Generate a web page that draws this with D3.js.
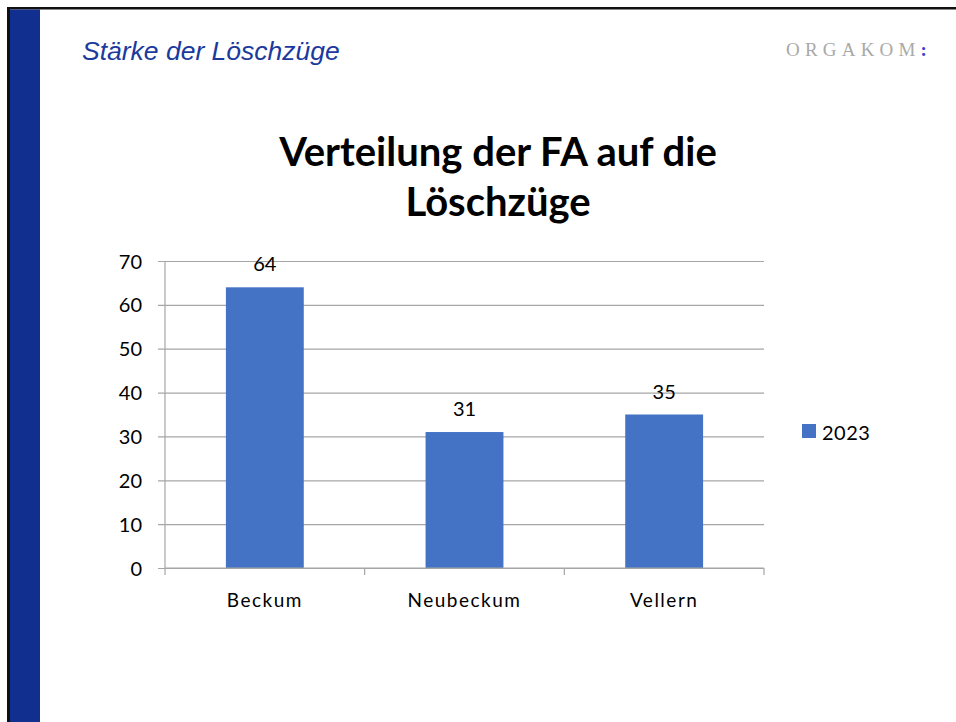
<!DOCTYPE html>
<html><head><meta charset="utf-8">
<script src="https://cdn.jsdelivr.net/npm/d3@7"></script>
<style>html,body{margin:0;padding:0;background:#fff;}svg{display:block;}</style>
</head><body>
<script>
const categories = ["Beckum", "Neubeckum", "Vellern"];
const values2023 = [64, 31, 35];
const seriesName = "2023";
const yTicks = [0, 10, 20, 30, 40, 50, 60, 70];
const titleLines = ["Verteilung der FA auf die", "Löschzüge"];

const W = 956, H = 722;
const svg = d3.select("body").append("svg").attr("width", W).attr("height", H);

// slide frame
svg.append("rect").attr("x", 7).attr("y", 7).attr("width", W - 7).attr("height", 2.5).attr("fill", "#111");
svg.append("rect").attr("x", 7).attr("y", 7).attr("width", 3).attr("height", H - 7).attr("fill", "#111");
svg.append("rect").attr("x", 10).attr("y", 9.5).attr("width", 30).attr("height", H - 9.5).attr("fill", "#112f8f");

svg.append("text").attr("x", 82).attr("y", 60)
  .attr("font-family", "Liberation Sans, Arial, sans-serif").attr("font-style", "italic")
  .attr("font-size", 26.5).attr("fill", "#1b3a9e").text("Stärke der Löschzüge");

const logo = svg.append("text").attr("x", 786).attr("y", 56)
  .attr("font-family", "Liberation Serif, serif").attr("font-size", 19)
  .attr("letter-spacing", 5.2).attr("fill", "#a9a9a9");
logo.append("tspan").text("ORGAKOM");
logo.append("tspan").attr("fill", "#3b3bd6").attr("font-weight", "bold").text(":");

// title
svg.append("g").selectAll("text").data(titleLines).join("text")
  .attr("x", 498).attr("y", (d, i) => 166 + i * 50)
  .attr("text-anchor", "middle")
  .attr("font-family", "Lato, Carlito, sans-serif").attr("font-weight", "bold")
  .attr("font-size", 40).attr("fill", "#000").text(d => d);

const x0 = 165, x1 = 764, yTop = 261, yBot = 568;
const x = d3.scaleBand().domain(categories).range([x0, x1]).paddingInner(0.61).paddingOuter(0.305);
const y = d3.scaleLinear().domain([0, 70]).range([yBot, yTop]);

const font = "Lato, Carlito, sans-serif";

// gridlines
const yAxis = d3.axisLeft(y).tickValues(yTicks).tickSize(-(x1 - x0 + 0)).tickPadding(14).tickFormat(d3.format("d"));
const gy = svg.append("g").attr("transform", `translate(${x0},0)`).call(yAxis);
gy.select(".domain").remove();
gy.selectAll(".tick line").attr("stroke", "#a6a6a6").attr("stroke-width", 1.2).attr("x1", -7);
gy.selectAll(".tick text").attr("font-family", font).attr("font-size", 20).attr("fill", "#000")
  .attr("x", -23).attr("dy", "0.35em");

// y axis line
svg.append("line").attr("x1", x0).attr("x2", x0).attr("y1", yTop).attr("y2", yBot).attr("stroke", "#a6a6a6").attr("stroke-width", 1.2);

// bars
svg.append("g").selectAll("rect").data(values2023).join("rect")
  .attr("x", (d, i) => x(categories[i])).attr("width", x.bandwidth())
  .attr("y", d => y(d)).attr("height", d => yBot - y(d)).attr("fill", "#4472c4");

// x axis
const bandStep = (x1 - x0) / categories.length;
const tickPos = d3.range(categories.length + 1).map(i => x0 + i * bandStep);
svg.append("line").attr("x1", x0).attr("x2", x1).attr("y1", yBot).attr("y2", yBot).attr("stroke", "#a6a6a6").attr("stroke-width", 1.2);
svg.append("g").selectAll("line").data(tickPos).join("line")
  .attr("x1", d => d).attr("x2", d => d).attr("y1", yBot).attr("y2", yBot + 7)
  .attr("stroke", "#a6a6a6").attr("stroke-width", 1.2);
svg.append("g").selectAll("text").data(categories).join("text")
  .attr("x", d => x(d) + x.bandwidth() / 2).attr("y", 607)
  .attr("text-anchor", "middle").attr("font-family", font).attr("font-size", 19)
  .attr("letter-spacing", 1.5).attr("fill", "#000")
  .text(d => d);

// data labels
svg.append("g").selectAll("text").data(values2023).join("text")
  .attr("x", (d, i) => x(categories[i]) + x.bandwidth() / 2).attr("y", d => y(d) - 16)
  .attr("text-anchor", "middle").attr("font-family", font).attr("font-size", 20).attr("fill", "#000")
  .text(d => d);

// legend
svg.append("rect").attr("x", 802).attr("y", 424).attr("width", 14).attr("height", 14).attr("fill", "#4472c4");
svg.append("text").attr("x", 822).attr("y", 440).attr("font-family", font).attr("font-size", 20)
  .attr("letter-spacing", 0.5).attr("fill", "#000").text(seriesName);
</script>
</body></html>
